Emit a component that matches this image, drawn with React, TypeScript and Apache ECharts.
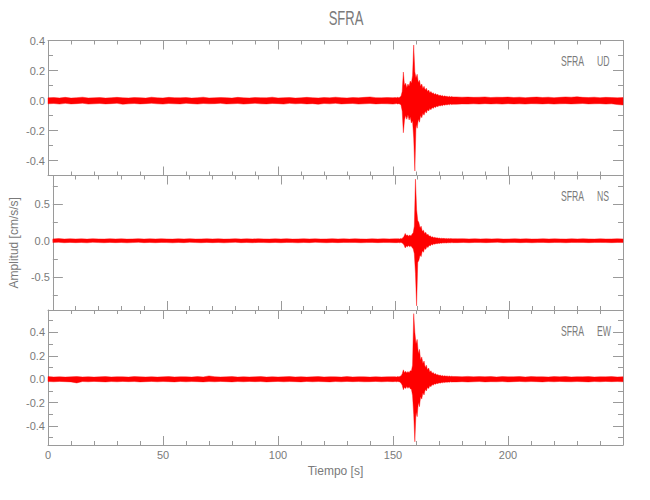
import React, { useEffect, useRef } from "react";
import * as echarts from "echarts";

// time grid (s)
const TIME = [
  0, 2.5, 5, 7.5, 10, 12.5, 15, 17.5, 20, 22.5, 25, 27.5, 30, 32.5, 35, 37.5, 40, 42.5, 45, 47.5,
  50, 52.5, 55, 57.5, 60, 62.5, 65, 67.5, 70, 72.5, 75, 77.5, 80, 82.5, 85, 87.5, 90, 92.5, 95, 97.5,
  100, 102.5, 105, 107.5, 110, 112.5, 115, 117.5, 120, 122.5, 125, 127.5, 130, 132.5, 135, 137.5, 140, 142.5, 145, 147.5,
  150,
  151, 151.5, 152, 152.5, 153, 153.5, 154, 154.5, 155, 155.5,
  156, 156.5, 157, 157.5, 158, 158.5, 159, 159.5, 160, 160.5,
  161, 161.5, 162, 162.5, 163, 163.5, 164, 164.5, 165, 165.5,
  166, 166.5, 167, 167.5, 168, 168.5, 169, 169.5, 170, 170.5,
  171, 171.5, 172, 172.5, 173, 173.5, 174, 174.5, 175, 175.5,
  176,
  177.5, 180, 182.5, 185, 187.5, 190, 192.5, 195, 197.5, 200,
  202.5, 205, 207.5, 210, 212.5, 215, 217.5, 220, 222.5, 225,
  227.5, 230, 232.5, 235, 237.5, 240, 242.5, 245, 247.5, 250,
];

// UD component: upper / lower envelope (cm/s/s)
const UD_UP = [
  0.018, 0.020, 0.017, 0.021, 0.016, 0.019, 0.022, 0.017, 0.018, 0.020,
  0.016, 0.019, 0.021, 0.018, 0.017, 0.020, 0.019, 0.016, 0.022, 0.018,
  0.017, 0.021, 0.019, 0.018, 0.020, 0.016, 0.019, 0.022, 0.017, 0.018,
  0.020, 0.019, 0.016, 0.021, 0.018, 0.017, 0.020, 0.019, 0.018, 0.022,
  0.017, 0.019, 0.020, 0.016, 0.018, 0.021, 0.019, 0.017, 0.020, 0.018,
  0.022, 0.019, 0.017, 0.020, 0.018, 0.021, 0.024, 0.019, 0.018, 0.020,
  0.019,
  0.020, 0.018, 0.021, 0.019, 0.022, 0.030, 0.060, 0.190, 0.100, 0.115,
  0.085, 0.110, 0.095, 0.130, 0.115, 0.165, 0.370, 0.190, 0.150, 0.175,
  0.120, 0.135, 0.095, 0.110, 0.080, 0.095, 0.070, 0.082, 0.060, 0.070,
  0.052, 0.060, 0.046, 0.052, 0.040, 0.046, 0.036, 0.041, 0.032, 0.036,
  0.030, 0.034, 0.027, 0.031, 0.026, 0.029, 0.024, 0.028, 0.023, 0.026,
  0.024,
  0.024, 0.022, 0.023, 0.021, 0.022, 0.024, 0.020, 0.022, 0.021, 0.023,
  0.020, 0.022, 0.019, 0.021, 0.023, 0.020, 0.022, 0.019, 0.021, 0.024,
  0.022, 0.025, 0.021, 0.020, 0.022, 0.019, 0.021, 0.020, 0.018, 0.020,
];
const UD_LO = [
  -0.022, -0.020, -0.024, -0.019, -0.023, -0.021, -0.018, -0.024, -0.022, -0.020,
  -0.023, -0.021, -0.019, -0.025, -0.022, -0.020, -0.023, -0.021, -0.019, -0.022,
  -0.024, -0.020, -0.022, -0.023, -0.019, -0.021, -0.024, -0.020, -0.022, -0.021,
  -0.019, -0.023, -0.022, -0.020, -0.024, -0.021, -0.019, -0.022, -0.023, -0.020,
  -0.021, -0.024, -0.019, -0.022, -0.020, -0.023, -0.021, -0.025, -0.020, -0.022,
  -0.019, -0.023, -0.021, -0.020, -0.024, -0.022, -0.020, -0.023, -0.021, -0.022,
  -0.024,
  -0.022, -0.020, -0.023, -0.021, -0.024, -0.032, -0.070, -0.215, -0.130, -0.100,
  -0.125, -0.095, -0.130, -0.110, -0.150, -0.135, -0.250, -0.470, -0.160, -0.185,
  -0.125, -0.145, -0.100, -0.115, -0.085, -0.098, -0.072, -0.084, -0.062, -0.070,
  -0.054, -0.062, -0.046, -0.053, -0.041, -0.047, -0.037, -0.042, -0.033, -0.037,
  -0.031, -0.035, -0.028, -0.032, -0.027, -0.030, -0.025, -0.029, -0.024, -0.027,
  -0.025,
  -0.025, -0.023, -0.024, -0.022, -0.024, -0.021, -0.023, -0.022, -0.024, -0.021,
  -0.023, -0.022, -0.024, -0.021, -0.022, -0.023, -0.021, -0.024, -0.022, -0.021,
  -0.023, -0.022, -0.020, -0.023, -0.022, -0.021, -0.024, -0.022, -0.027, -0.030,
];

// NS component
const NS_UP = [
  0.025, 0.029, 0.023, 0.027, 0.024, 0.026, 0.022, 0.028, 0.025, 0.023,
  0.027, 0.024, 0.026, 0.022, 0.025, 0.028, 0.023, 0.026, 0.024, 0.027,
  0.025, 0.022, 0.026, 0.024, 0.028, 0.023, 0.025, 0.027, 0.024, 0.026,
  0.022, 0.025, 0.028, 0.023, 0.026, 0.024, 0.027, 0.025, 0.023, 0.026,
  0.024, 0.028, 0.022, 0.025, 0.027, 0.024, 0.026, 0.023, 0.025, 0.028,
  0.024, 0.026, 0.023, 0.027, 0.025, 0.022, 0.026, 0.024, 0.027, 0.025,
  0.026,
  0.026, 0.028, 0.025, 0.029, 0.027, 0.040, 0.060, 0.100, 0.070, 0.080,
  0.060, 0.078, 0.065, 0.090, 0.110, 0.200, 0.850, 0.430, 0.280, 0.250,
  0.180, 0.200, 0.130, 0.145, 0.100, 0.115, 0.078, 0.090, 0.060, 0.068,
  0.048, 0.055, 0.042, 0.047, 0.036, 0.041, 0.033, 0.037, 0.030, 0.034,
  0.029, 0.032, 0.028, 0.031, 0.027, 0.030, 0.026, 0.029, 0.027, 0.026,
  0.028,
  0.026, 0.028, 0.025, 0.027, 0.024, 0.026, 0.025, 0.028, 0.023, 0.025,
  0.027, 0.024, 0.026, 0.023, 0.025, 0.027, 0.024, 0.026, 0.025, 0.023,
  0.026, 0.024, 0.027, 0.025, 0.023, 0.026, 0.024, 0.025, 0.027, 0.025,
];
const NS_LO = [
  -0.026, -0.023, -0.028, -0.024, -0.027, -0.025, -0.029, -0.023, -0.026, -0.028,
  -0.024, -0.027, -0.025, -0.029, -0.026, -0.023, -0.027, -0.025, -0.028, -0.024,
  -0.026, -0.029, -0.025, -0.027, -0.023, -0.026, -0.028, -0.024, -0.027, -0.025,
  -0.029, -0.026, -0.023, -0.027, -0.025, -0.028, -0.024, -0.026, -0.027, -0.025,
  -0.028, -0.024, -0.026, -0.029, -0.025, -0.027, -0.023, -0.026, -0.028, -0.025,
  -0.027, -0.024, -0.026, -0.025, -0.028, -0.026, -0.024, -0.027, -0.025, -0.026,
  -0.027,
  -0.027, -0.025, -0.029, -0.026, -0.028, -0.040, -0.060, -0.100, -0.075, -0.085,
  -0.065, -0.085, -0.070, -0.095, -0.110, -0.180, -0.450, -0.900, -0.300, -0.270,
  -0.200, -0.220, -0.140, -0.160, -0.105, -0.120, -0.082, -0.095, -0.064, -0.072,
  -0.050, -0.058, -0.043, -0.049, -0.038, -0.043, -0.034, -0.038, -0.031, -0.035,
  -0.030, -0.033, -0.029, -0.032, -0.028, -0.030, -0.027, -0.029, -0.026, -0.028,
  -0.027,
  -0.027, -0.025, -0.028, -0.024, -0.026, -0.027, -0.025, -0.023, -0.027, -0.026,
  -0.024, -0.027, -0.025, -0.028, -0.026, -0.024, -0.027, -0.025, -0.026, -0.028,
  -0.024, -0.026, -0.025, -0.027, -0.025, -0.024, -0.026, -0.027, -0.025, -0.026,
];

// EW component
const EW_UP = [
  0.022, 0.019, 0.021, 0.018, 0.020, 0.023, 0.019, 0.021, 0.018, 0.020,
  0.022, 0.019, 0.021, 0.020, 0.018, 0.022, 0.020, 0.019, 0.021, 0.018,
  0.020, 0.022, 0.019, 0.021, 0.020, 0.018, 0.022, 0.019, 0.028, 0.021,
  0.019, 0.020, 0.022, 0.018, 0.021, 0.019, 0.020, 0.022, 0.018, 0.021,
  0.019, 0.020, 0.022, 0.019, 0.021, 0.018, 0.020, 0.022, 0.019, 0.021,
  0.020, 0.018, 0.022, 0.019, 0.021, 0.020, 0.018, 0.021, 0.019, 0.020,
  0.021,
  0.021, 0.019, 0.022, 0.020, 0.023, 0.030, 0.045, 0.080, 0.055, 0.068,
  0.052, 0.066, 0.055, 0.072, 0.070, 0.120, 0.560, 0.400, 0.300, 0.340,
  0.220, 0.255, 0.165, 0.190, 0.135, 0.155, 0.100, 0.120, 0.080, 0.095,
  0.062, 0.072, 0.050, 0.058, 0.042, 0.048, 0.035, 0.040, 0.031, 0.035,
  0.028, 0.032, 0.026, 0.030, 0.025, 0.028, 0.024, 0.027, 0.022, 0.025,
  0.023,
  0.023, 0.021, 0.024, 0.020, 0.022, 0.021, 0.023, 0.019, 0.022, 0.020,
  0.021, 0.023, 0.019, 0.022, 0.020, 0.021, 0.019, 0.022, 0.020, 0.023,
  0.019, 0.021, 0.020, 0.022, 0.019, 0.021, 0.020, 0.022, 0.019, 0.021,
];
const EW_LO = [
  -0.020, -0.022, -0.019, -0.021, -0.023, -0.032, -0.020, -0.022, -0.019, -0.021,
  -0.023, -0.020, -0.022, -0.019, -0.021, -0.020, -0.023, -0.021, -0.019, -0.022,
  -0.020, -0.021, -0.023, -0.019, -0.022, -0.020, -0.021, -0.023, -0.020, -0.022,
  -0.019, -0.021, -0.023, -0.020, -0.022, -0.019, -0.021, -0.020, -0.023, -0.021,
  -0.019, -0.022, -0.020, -0.021, -0.023, -0.019, -0.022, -0.020, -0.021, -0.023,
  -0.020, -0.022, -0.019, -0.021, -0.020, -0.022, -0.021, -0.019, -0.022, -0.020,
  -0.021,
  -0.020, -0.022, -0.019, -0.021, -0.023, -0.035, -0.050, -0.090, -0.068, -0.080,
  -0.062, -0.078, -0.065, -0.082, -0.085, -0.140, -0.300, -0.535, -0.280, -0.320,
  -0.200, -0.235, -0.150, -0.170, -0.115, -0.135, -0.088, -0.100, -0.070, -0.080,
  -0.056, -0.064, -0.046, -0.052, -0.039, -0.044, -0.034, -0.038, -0.030, -0.034,
  -0.028, -0.031, -0.026, -0.029, -0.025, -0.027, -0.023, -0.026, -0.022, -0.025,
  -0.023,
  -0.023, -0.021, -0.024, -0.022, -0.020, -0.023, -0.021, -0.022, -0.020, -0.023,
  -0.021, -0.019, -0.022, -0.020, -0.021, -0.023, -0.020, -0.022, -0.019, -0.021,
  -0.022, -0.020, -0.021, -0.023, -0.020, -0.022, -0.019, -0.021, -0.020, -0.022,
];

// axis ticks
const UD_MAJOR = [-0.4, -0.2, 0, 0.2, 0.4];
const UD_MINOR = [-0.3, -0.1, 0.1, 0.3];
const NS_MAJOR = [-0.5, 0, 0.5];
const NS_MINOR = [-0.75, -0.25, 0.25, 0.75];
const EW_MAJOR = [-0.4, -0.2, 0, 0.2, 0.4];
const EW_MINOR = [-0.5, -0.3, -0.1, 0.1, 0.3, 0.5];

const STATION = "SFRA";
const COMPONENTS = ["UD", "NS", "EW"];

const LINE = "#9a9a9a";
const TXT = "#7a7a7a";
const FONT = "'Liberation Sans', Arial, sans-serif";

export default function App() {
  const ref = useRef<HTMLDivElement>(null);

  useEffect(() => {
    if (!ref.current) return;
    const chart = echarts.init(ref.current, undefined, { renderer: "svg" });

    const panels = [
      { comp: COMPONENTS[0], up: UD_UP, lo: UD_LO, min: -0.5, max: 0.4, major: UD_MAJOR, minor: UD_MINOR },
      { comp: COMPONENTS[1], up: NS_UP, lo: NS_LO, min: -0.957, max: 0.9, major: NS_MAJOR, minor: NS_MINOR },
      { comp: COMPONENTS[2], up: EW_UP, lo: EW_LO, min: -0.562, max: 0.591, major: EW_MAJOR, minor: EW_MINOR },
    ];
    const gridTops = [40.5, 175.5, 310];
    const gridHeights = [135, 134.5, 135];
    const labelY = [61, 196, 331];

    const grids: any[] = [];
    const xAxes: any[] = [];
    const yAxes: any[] = [];
    const series: any[] = [];
    const graphics: any[] = [];

    panels.forEach((p, i) => {
      grids.push({ left: 48, width: 575, top: gridTops[i], height: gridHeights[i] });
      ["bottom", "top"].forEach((pos) => {
        const showLab = i === 2 && pos === "bottom";
        xAxes.push({
          type: "value",
          gridIndex: i,
          position: pos,
          min: 0,
          max: 250,
          interval: 50,
          axisLine: { show: true, onZero: false, lineStyle: { color: LINE, width: 1 } },
          axisTick: { show: true, inside: true, length: 9, lineStyle: { color: LINE } },
          minorTick: { show: true, splitNumber: 5, length: 4, lineStyle: { color: LINE } },
          axisLabel: {
            show: showLab,
            margin: 4,
            color: TXT,
            fontSize: 11,
            fontFamily: FONT,
            showMaxLabel: false,
          },
          splitLine: { show: false },
          minorSplitLine: { show: false },
          name: showLab ? "Tiempo [s]" : "",
          nameLocation: "middle",
          nameGap: 20,
          nameTextStyle: { color: TXT, fontSize: 12, fontFamily: FONT },
        });
      });
      ["left", "right"].forEach((pos) => {
        const isLeft = pos === "left";
        const showName = isLeft && i === 1;
        yAxes.push({
          type: "value",
          gridIndex: i,
          position: pos,
          min: p.min,
          max: p.max,
          axisLine: { show: true, onZero: false, lineStyle: { color: LINE, width: 1 } },
          axisTick: { show: true, inside: true, length: 10, customValues: p.major, lineStyle: { color: LINE } },
          axisLabel: {
            show: isLeft,
            customValues: p.major,
            formatter: (v: number) => v.toFixed(1),
            margin: 3,
            color: TXT,
            fontSize: 11,
            fontFamily: FONT,
          },
          splitLine: { show: false },
          name: showName ? "Amplitud [cm/s/s]" : "",
          nameLocation: "middle",
          nameGap: 27,
          nameRotate: 90,
          nameTextStyle: { color: TXT, fontSize: 12, fontFamily: FONT },
        });
        yAxes.push({
          type: "value",
          gridIndex: i,
          position: pos,
          min: p.min,
          max: p.max,
          axisLine: { show: false, onZero: false },
          axisTick: { show: true, inside: true, length: 5, customValues: p.minor, lineStyle: { color: LINE } },
          axisLabel: { show: false },
          splitLine: { show: false },
        });
      });

      const n = Math.min(TIME.length, p.up.length, p.lo.length);
      const data = TIME.slice(0, n).map((t, k) => [t, p.up[k], p.lo[k]]);
      series.push({
        type: "custom",
        name: `${STATION} ${p.comp}`,
        xAxisIndex: i * 2,
        yAxisIndex: i * 4,
        data,
        encode: { x: 0, y: [1, 2] },
        silent: true,
        renderItem: (params: any, api: any) => {
          if (params.dataIndex !== 0) return null;
          const top = data.map((d) => api.coord([d[0], d[1]]));
          const bot = data.map((d) => api.coord([d[0], d[2]])).reverse();
          return {
            type: "polygon",
            shape: { points: top.concat(bot) },
            style: { fill: "#ff0000", stroke: "#ff0000", lineWidth: 0.4 },
          };
        },
      });

      graphics.push({
        type: "text",
        x: 561,
        y: labelY[i],
        scaleX: 0.62,
        style: {
          text: STATION,
          fill: TXT,
          fontSize: 14,
          fontFamily: FONT,
          align: "left",
          verticalAlign: "middle",
          textAlign: "left",
          textVerticalAlign: "middle",
        },
      });
      graphics.push({
        type: "text",
        x: 597,
        y: labelY[i],
        scaleX: 0.62,
        style: {
          text: p.comp,
          fill: TXT,
          fontSize: 14,
          fontFamily: FONT,
          align: "left",
          verticalAlign: "middle",
          textAlign: "left",
          textVerticalAlign: "middle",
        },
      });
    });

    graphics.push({
      type: "text",
      x: 346,
      y: 18,
      scaleX: 0.62,
      style: {
        text: STATION,
        fill: TXT,
        fontSize: 21,
        fontFamily: FONT,
        align: "center",
        verticalAlign: "middle",
        textAlign: "center",
        textVerticalAlign: "middle",
      },
    });

    chart.setOption({
      animation: false,
      backgroundColor: "#ffffff",
      grid: grids,
      xAxis: xAxes,
      yAxis: yAxes,
      series,
      graphic: graphics,
    });

    return () => chart.dispose();
  }, []);

  return (
    <div
      ref={ref}
      style={{ position: "fixed", left: 0, top: 0, width: 650, height: 500, background: "#fff" }}
    />
  );
}
